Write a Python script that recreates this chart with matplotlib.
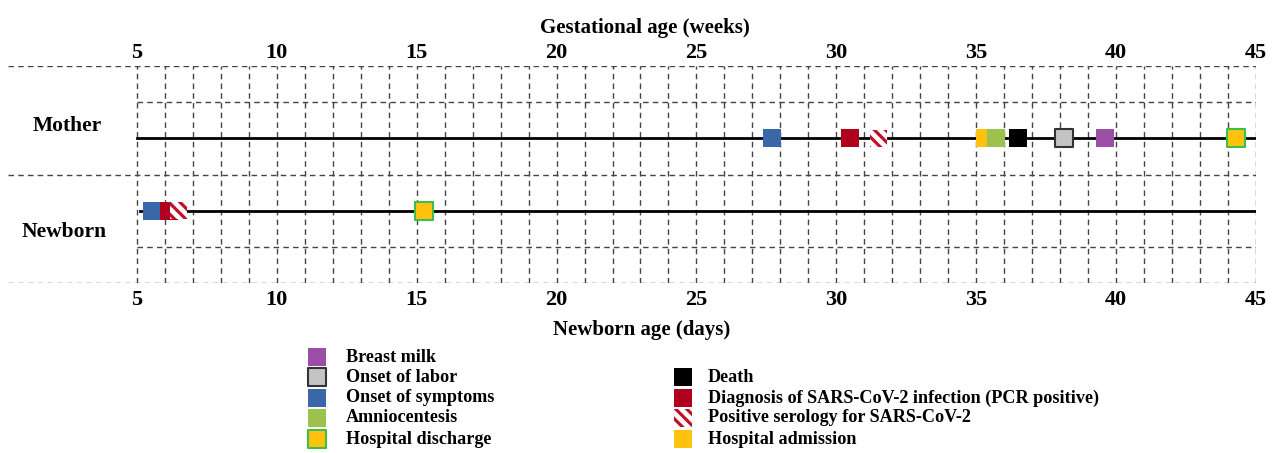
import numpy as np
import matplotlib.pyplot as plt

plt.rcParams['font.family'] = 'Liberation Serif'
plt.rcParams['font.weight'] = 'bold'
plt.rcParams['hatch.linewidth'] = 2.3

# event types: label, face colour, edge colour, hatch
ev_names = ['Breast milk', 'Onset of labor', 'Onset of symptoms', 'Amniocentesis',
            'Hospital discharge', 'Death', 'Diagnosis of SARS-CoV-2 infection (PCR positive)',
            'Positive serology for SARS-CoV-2', 'Hospital admission']
ev_face = ['#9b4ea6', '#c4c4c4', '#3a67a8', '#9bc24c', '#ffc20e', '#000000', '#b0001e', 'white', '#ffc20e']
ev_edge = ['#9b4ea6', '#333333', '#3a67a8', '#9bc24c', '#3dbe4a', '#000000', '#b0001e', '#c0102a', '#ffc20e']
ev_hatch = [None, None, None, None, None, None, None, '\\\\\\', None]

# timeline events (x in weeks / days, index into event types)
mother_x = [27.7, 30.5, 31.5, 35.3, 35.7, 36.5, 38.15, 39.6, 44.3]
mother_ev = [2, 6, 7, 8, 3, 5, 1, 0, 4]
newborn_x = [5.55, 6.15, 6.5, 15.25]
newborn_ev = [2, 6, 7, 4]

ticks = [5, 10, 15, 20, 25, 30, 35, 40, 45]
mother_y = 4
newborn_y = 2

fig = plt.figure(figsize=(12.78, 4.53), dpi=100)
ax = fig.add_axes([8 / 1278, (453 - 283) / 453, (1256 - 8) / 1278, 217 / 453])
xmin = 5 - (137 - 8) / 28.0
ax.set_xlim(xmin, 45)
ax.set_ylim(0, 6)
for s in ax.spines.values():
    s.set_visible(False)

dash = dict(color='#444444', lw=1.0, ls=(0, (4, 3)), zorder=1)
for gx in range(5, 46):
    ax.plot([gx, gx], [0, 6], **dash)
for gy in [0, 3, 6]:
    ax.plot([xmin, 45], [gy, gy], **dash)
for gy in [1, 5]:
    ax.plot([5, 45], [gy, gy], **dash)

ax.plot([5, 45], [mother_y, mother_y], color='black', lw=2, zorder=2)
ax.plot([5.1, 45], [newborn_y, newborn_y], color='black', lw=2, zorder=2)

def draw_events(xs, evs, y):
    for x, e in zip(xs, evs):
        ax.scatter([x], [y], s=150, marker='s', facecolor=ev_face[e], edgecolor=ev_edge[e],
                   linewidths=1.5 if e in (1, 4) else 0, hatch=ev_hatch[e], zorder=3)

draw_events(mother_x, mother_ev, mother_y)
draw_events(newborn_x, newborn_ev, newborn_y)

ax.text(2.5, 4.35, 'Mother', fontsize=15.5, ha='center', va='center')
ax.text(2.4, 1.42, 'Newborn', fontsize=15.5, ha='center', va='center')

ax.set_xticks(ticks)
ax.set_yticks([])
ax.tick_params(axis='x', length=0, labelsize=16, pad=5)
top = ax.secondary_xaxis('top')
top.set_xticks(ticks)
top.tick_params(length=0, labelsize=16, pad=2)
top.spines['top'].set_visible(False)

fig.text(645 / 1278, (453 - 33) / 453, 'Gestational age (weeks)', fontsize=15,
         ha='center', va='baseline')
fig.text(642 / 1278, (453 - 335) / 453, 'Newborn age (days)', fontsize=15,
         ha='center', va='baseline')

# legend
lg = fig.add_axes([0, 0, 1, 1], facecolor='none')
lg.set_xlim(0, 1278)
lg.set_ylim(453, 0)
lg.axis('off')
left_items = [0, 1, 2, 3, 4]
right_items = [5, 6, 7, 8]
left_rows = [357, 377, 398, 418, 439]
right_rows = [377, 398, 418, 439]
for items, rows, sx, tx in [(left_items, left_rows, 317, 346), (right_items, right_rows, 683, 708)]:
    for e, ry in zip(items, rows):
        lg.scatter([sx], [ry], s=160, marker='s', facecolor=ev_face[e], edgecolor=ev_edge[e],
                   linewidths=1.5 if e in (1, 4) else 0, hatch=ev_hatch[e])
        lg.text(tx, ry, ev_names[e], fontsize=13.1, ha='left', va='center')

fig.savefig('out.png', dpi=100)
